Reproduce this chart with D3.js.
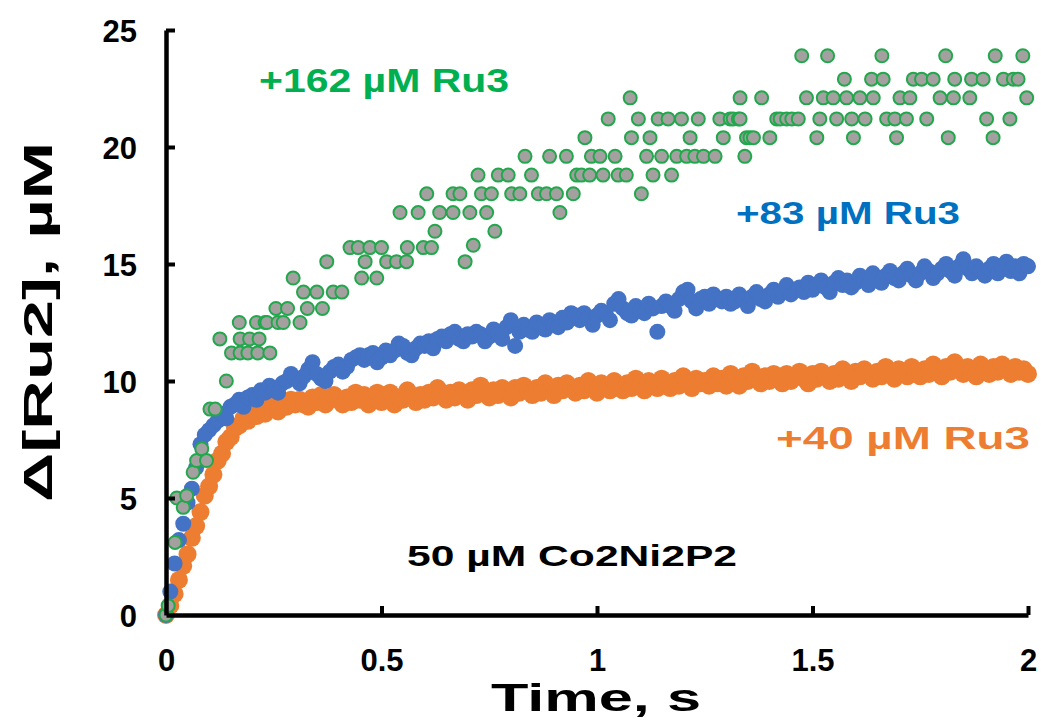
<!DOCTYPE html>
<html>
<head>
<meta charset="utf-8">
<script src="https://cdn.jsdelivr.net/npm/d3@7"></script>
<style>
  html, body { margin: 0; padding: 0; background: #fff; }
  svg text { font-family: "Liberation Sans", Arial, sans-serif; font-weight: bold; }
</style>
</head>
<body>
<svg id="chart" width="1041" height="721"></svg>
<script>
// ---- data ----
var xTicks = [0, 0.5, 1, 1.5, 2];
var yTicks = [0, 5, 10, 15, 20, 25];
var sampleStep = 0.01; // s, blue & orange traces

// +162 uM Ru3 (quantised trace, explicit time / value pairs)
var greenT = [0.000,0.005,0.021,0.025,0.040,0.048,0.063,0.071,0.083,0.094,0.102,0.114,0.125,0.140,0.152,0.170,0.172,0.172,0.190,0.194,
  0.210,0.213,0.216,0.230,0.234,0.241,0.255,0.260,0.272,0.282,0.295,0.311,0.319,0.328,0.350,0.363,0.373,0.388,0.408,0.427,
  0.446,0.454,0.462,0.473,0.489,0.500,0.512,0.535,0.543,0.558,0.560,0.585,0.597,0.605,0.616,0.624,0.635,0.666,0.666,0.682,
  0.694,0.705,0.713,0.724,0.732,0.744,0.755,0.763,0.771,0.794,0.802,0.821,0.833,0.848,0.864,0.883,0.890,0.906,0.914,0.929,
  0.945,0.953,0.964,0.972,0.983,0.987,1.007,1.014,1.026,1.042,1.049,1.068,1.077,1.080,1.096,1.103,1.115,1.123,1.130,1.142,
  1.150,1.165,1.173,1.185,1.196,1.208,1.216,1.227,1.235,1.247,1.274,1.285,1.293,1.309,1.316,1.328,1.332,1.332,1.343,1.347,
  1.355,1.363,1.382,1.401,1.417,1.425,1.440,1.452,1.467,1.475,1.486,1.510,1.517,1.525,1.535,1.548,1.556,1.574,1.579,1.591,
  1.595,1.610,1.622,1.637,1.641,1.661,1.664,1.672,1.691,1.695,1.703,1.718,1.726,1.734,1.753,1.765,1.780,1.796,1.809,1.815,
  1.827,1.830,1.865,1.869,1.896,1.904,1.919,1.924,1.943,1.958,1.966,1.977,1.988,1.997];
var greenY = [0.0,0.4,3.1,5.0,4.6,5.1,6.1,6.6,7.1,6.6,8.8,8.8,11.8,10.0,11.2,12.5,11.2,11.8,11.2,11.8,
  12.5,11.2,11.8,12.5,12.5,11.2,13.1,12.5,12.5,13.1,14.4,12.5,13.8,13.1,13.8,13.1,15.1,13.8,13.8,15.7,
  15.7,14.4,15.1,15.7,14.4,15.7,15.1,15.1,17.2,15.1,15.7,17.2,15.7,18.0,15.7,16.4,17.2,17.2,18.0,18.0,
  15.1,17.2,15.8,18.8,18.0,17.2,18.0,16.4,18.8,18.8,18.0,18.0,19.6,18.8,18.0,18.0,19.6,18.0,17.2,19.6,
  18.0,18.8,18.8,20.4,18.8,19.6,19.6,18.8,21.2,19.6,18.8,18.8,22.1,20.4,21.2,18.0,19.6,20.4,18.8,21.2,
  19.6,21.2,18.8,19.6,21.2,19.6,20.4,19.6,21.2,19.6,19.6,21.2,20.4,21.2,21.2,21.2,22.1,21.2,19.6,20.4,
  20.4,20.4,22.1,20.4,21.2,21.2,21.2,21.2,21.2,23.9,22.1,20.4,21.2,22.1,23.9,22.1,21.2,22.9,22.1,21.2,
  20.4,22.1,21.2,22.9,22.1,23.9,22.9,21.2,21.2,20.4,22.1,21.2,22.1,22.9,22.9,21.2,22.9,22.1,23.9,20.4,
  22.1,22.9,22.1,22.9,22.9,21.2,20.4,23.9,22.9,21.2,22.9,22.9,23.9,22.1];

// +83 uM Ru3, one value every sampleStep from t = 0
var blueY = [0.0,1.0,2.2,3.2,3.9,4.8,5.4,6.3,7.3,7.7,7.9,8.1,8.3,8.6,8.4,8.9,9.0,9.2,8.9,9.3,
  9.4,9.2,9.6,9.5,9.8,9.6,9.5,9.9,10.0,10.3,10.1,9.9,10.2,10.5,10.8,10.3,10.1,10.0,10.4,10.6,
  10.7,10.4,10.6,10.9,11.0,11.1,10.9,11.1,11.2,10.8,11.0,11.3,11.1,11.3,11.6,11.5,11.2,11.1,11.4,11.6,
  11.5,11.7,11.4,11.8,11.9,11.7,12.0,12.1,11.8,11.7,12.0,11.9,12.1,12.0,11.7,11.9,12.2,12.0,11.8,12.3,
  12.6,11.5,12.1,12.4,12.2,12.1,12.5,12.3,12.2,12.6,12.4,12.3,12.7,12.5,12.9,12.8,12.6,12.9,12.7,12.4,
  12.8,13.0,12.9,12.6,13.3,13.5,13.1,12.9,12.8,13.2,13.0,12.9,13.3,13.1,12.1,13.2,13.4,13.2,13.0,13.5,
  13.8,13.9,13.4,13.1,13.5,13.6,13.3,13.7,13.5,13.4,13.6,13.3,13.4,13.7,13.5,13.2,13.6,13.8,13.5,13.4,
  13.7,13.9,13.6,13.8,14.1,13.7,13.9,14.0,13.8,14.2,13.9,14.1,14.3,14.0,13.8,14.2,14.4,14.1,14.3,14.0,
  14.2,14.5,14.3,14.1,14.6,14.4,14.2,14.5,14.7,14.4,14.3,14.6,14.8,14.5,14.3,14.6,14.9,14.7,14.4,14.6,
  14.8,15.0,14.7,14.5,14.9,15.2,14.8,14.6,14.9,14.7,14.5,14.8,15.0,14.6,14.9,15.1,14.7,14.9,14.6,15.0,14.9];

// +40 uM Ru3, one value every sampleStep from t = 0
var orangeY = [0.0,0.4,0.9,1.5,2.1,2.6,3.3,3.8,4.4,5.1,5.5,6.0,6.6,6.9,7.4,7.6,8.0,8.1,8.4,8.3,
  8.6,8.5,8.8,8.6,9.0,8.8,8.7,9.1,8.9,9.2,9.0,9.2,9.0,8.9,9.3,9.1,9.4,9.0,9.2,9.4,
  9.2,9.0,9.3,9.1,9.5,9.2,9.4,9.0,9.3,9.5,9.1,9.3,9.5,9.0,9.3,9.2,9.6,9.3,9.1,9.4,
  9.2,9.5,9.3,9.7,9.4,9.2,9.5,9.3,9.6,9.4,9.2,9.6,9.4,9.8,9.5,9.3,9.6,9.4,9.7,9.5,
  9.3,9.7,9.5,9.8,9.6,9.4,9.7,9.5,9.9,9.6,9.4,9.8,9.6,9.9,9.7,9.5,9.8,9.6,10.0,9.7,
  9.5,9.9,9.7,9.6,10.0,9.8,9.6,9.9,9.7,10.1,9.8,9.6,10.0,9.8,9.7,10.1,9.9,9.7,10.0,9.8,
  10.2,9.9,9.7,10.1,9.9,10.0,9.8,10.2,9.9,10.1,9.8,10.3,10.0,9.8,10.2,10.0,10.4,10.1,9.9,10.2,
  10.0,10.3,10.1,9.9,10.3,10.0,10.2,10.4,10.1,9.9,10.3,10.1,10.4,10.2,10.0,10.3,10.1,10.5,10.2,10.0,
  10.4,10.2,10.5,10.3,10.1,10.4,10.2,10.6,10.3,10.1,10.5,10.3,10.2,10.6,10.4,10.2,10.5,10.3,10.7,10.4,
  10.2,10.6,10.4,10.8,10.5,10.3,10.6,10.4,10.2,10.7,10.5,10.3,10.6,10.4,10.7,10.5,10.3,10.6,10.4,10.5,10.3];

(function() {
  // ---- layout ----
  var svg = d3.select('#chart');
  var plotLeft = 166, plotRight = 1028, plotTop = 30, plotBottom = 615;

  var x = d3.scaleLinear().domain([0, 2]).range([plotLeft, plotRight]);
  var y = d3.scaleLinear().domain([0, 25]).range([plotBottom, plotTop]);

  var toPts = function(vals) {
    return vals.map(function(v, i) { return { t: i * sampleStep, v: v }; });
  };
  var greenPts = greenT.map(function(t, i) { return { t: t, v: greenY[i] }; });

  // series: orange below, blue, green on top
  svg.append('g').attr('class', 'orange')
    .selectAll('circle').data(toPts(orangeY)).enter()
    .append('circle')
      .attr('cx', function(d) { return x(d.t); })
      .attr('cy', function(d) { return y(d.v); })
      .attr('r', 9)
      .attr('fill', '#ed7d31');

  svg.append('g').attr('class', 'blue')
    .selectAll('circle').data(toPts(blueY)).enter()
    .append('circle')
      .attr('cx', function(d) { return x(d.t); })
      .attr('cy', function(d) { return y(d.v); })
      .attr('r', 8)
      .attr('fill', '#4472c4');

  svg.append('g').attr('class', 'green')
    .selectAll('circle').data(greenPts).enter()
    .append('circle')
      .attr('cx', function(d) { return x(d.t); })
      .attr('cy', function(d) { return y(d.v); })
      .attr('r', 6.5)
      .attr('fill', '#a5a0a0')
      .attr('stroke', '#22a84c')
      .attr('stroke-width', 2);

  // axes
  var yAxis = svg.append('g')
    .attr('transform', 'translate(' + plotLeft + ',0)')
    .call(d3.axisLeft(y).tickValues(yTicks).tickSizeInner(-9).tickSizeOuter(0).tickPadding(29)
      .tickFormat(d3.format('d')));
  var xAxis = svg.append('g')
    .attr('transform', 'translate(0,' + plotBottom + ')')
    .call(d3.axisBottom(x).tickValues(xTicks).tickSizeInner(-9).tickSizeOuter(0).tickPadding(30)
      .tickFormat(function(d) { return d3.format('')(d); }));

  [yAxis, xAxis].forEach(function(ax) {
    ax.select('.domain').attr('stroke', '#000').attr('stroke-width', 4.5);
    ax.selectAll('.tick line').attr('stroke', '#000').attr('stroke-width', 4);
    ax.selectAll('.tick text').attr('fill', '#000')
      .style('font-size', '31px').style('font-family', '"Liberation Sans", Arial, sans-serif')
      .style('font-weight', 'bold');
  });
  yAxis.selectAll('.tick text').attr('dy', '0.36em');
  xAxis.selectAll('.tick text').attr('dy', '0.85em');
  yAxis.selectAll('.tick').filter(function(d) { return d === 0; }).select('line').remove();
  xAxis.selectAll('.tick').filter(function(d) { return d === 0; }).select('line').remove();

  // axis titles
  svg.append('text')
    .attr('transform', 'translate(52,' + 322 + ') rotate(-90)')
    .attr('text-anchor', 'middle')
    .attr('textLength', 360).attr('lengthAdjust', 'spacingAndGlyphs')
    .style('font-size', '40px')
    .text('Δ[Ru2], µM');

  svg.append('text')
    .attr('x', 596).attr('y', 711)
    .attr('text-anchor', 'middle')
    .attr('textLength', 210).attr('lengthAdjust', 'spacingAndGlyphs')
    .style('font-size', '38px')
    .text('Time, s');

  // series labels
  var labels = [
    { text: '+162 µM Ru3', x: 259, y: 92, w: 250, size: 34, color: '#00b050' },
    { text: '+83 µM Ru3', x: 736, y: 224, w: 224, size: 32, color: '#0070c0' },
    { text: '+40 µM Ru3', x: 776, y: 449, w: 254, size: 32, color: '#ed7d31' },
    { text: '50 µM Co2Ni2P2', x: 407, y: 566, w: 330, size: 30, color: '#000' }
  ];
  svg.selectAll('text.label').data(labels).enter()
    .append('text')
      .attr('class', 'label')
      .attr('x', function(d) { return d.x; })
      .attr('y', function(d) { return d.y; })
      .attr('textLength', function(d) { return d.w; })
      .attr('lengthAdjust', 'spacingAndGlyphs')
      .style('font-size', function(d) { return d.size + 'px'; })
      .attr('fill', function(d) { return d.color; })
      .text(function(d) { return d.text; });
})();
</script>
</body>
</html>
